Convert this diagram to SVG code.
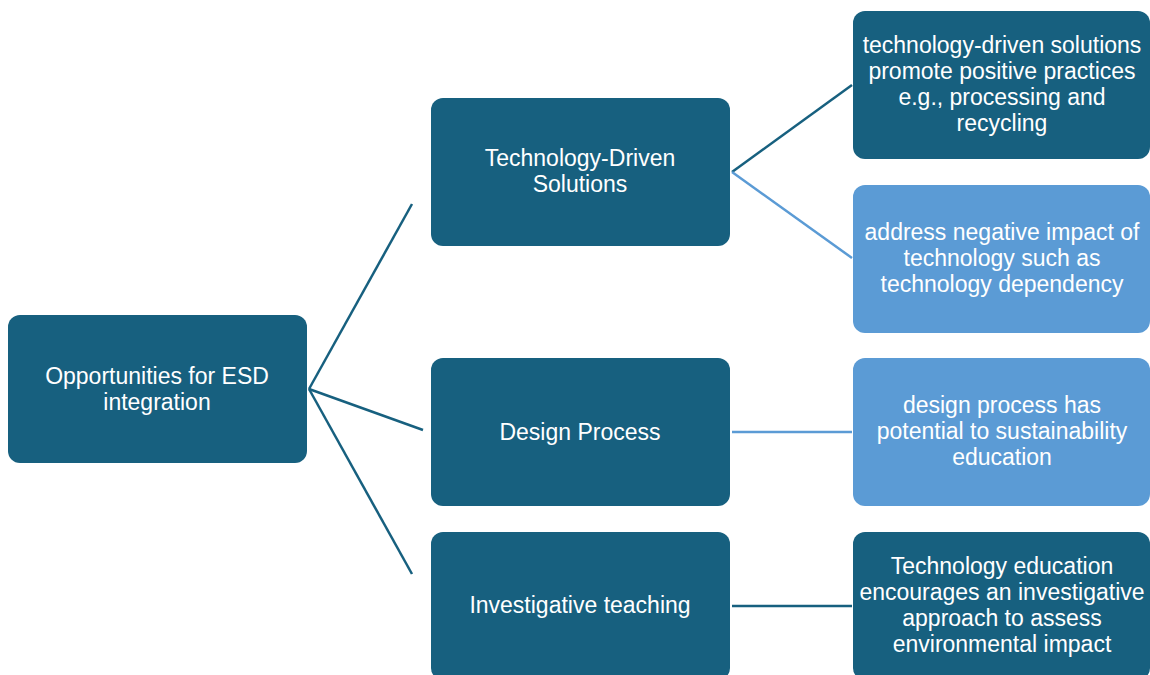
<svg xmlns="http://www.w3.org/2000/svg" width="1150" height="675" viewBox="0 0 1150 675">
  <style>
    .dark { fill: #17607f; }
    .light { fill: #5b9bd5; }
    .lbl { font-family: "Liberation Sans", Arial, sans-serif; font-size: 23px; fill: #ffffff; text-anchor: middle; }
    .cd { stroke: #17607f; stroke-width: 2.5; fill: none; }
    .cl { stroke: #5b9bd5; stroke-width: 2.5; fill: none; }
  </style>
  <rect width="1150" height="675" fill="#ffffff"/>

  <!-- connectors -->
  <g id="connectors">
    <line class="cd" x1="309" y1="389" x2="412" y2="204"/>
    <line class="cd" x1="309" y1="389" x2="423" y2="430"/>
    <line class="cd" x1="309" y1="389" x2="412" y2="574"/>
    <line class="cd" x1="732" y1="172" x2="852" y2="85"/>
    <line class="cl" x1="732" y1="172" x2="852" y2="258"/>
    <line class="cl" x1="732" y1="432" x2="852" y2="432"/>
    <line class="cd" x1="732" y1="606" x2="852" y2="606"/>
  </g>

  <!-- root -->
  <g id="root">
    <rect class="dark" x="8" y="315" width="299" height="148" rx="12"/>
    <text class="lbl" x="157" y="384">Opportunities for ESD</text>
    <text class="lbl" x="157" y="410">integration</text>
  </g>

  <!-- second level -->
  <g id="tech-driven">
    <rect class="dark" x="431" y="98" width="299" height="148" rx="12"/>
    <text class="lbl" x="580" y="166">Technology-Driven</text>
    <text class="lbl" x="580" y="192">Solutions</text>
  </g>
  <g id="design-process">
    <rect class="dark" x="431" y="358" width="299" height="148" rx="12"/>
    <text class="lbl" x="580" y="440">Design Process</text>
  </g>
  <g id="investigative">
    <rect class="dark" x="431" y="532" width="299" height="148" rx="12"/>
    <text class="lbl" x="580" y="613">Investigative teaching</text>
  </g>

  <!-- third level -->
  <g id="positive-practices">
    <rect class="dark" x="853" y="11" width="297" height="148" rx="12"/>
    <text class="lbl" x="1002" y="53">technology-driven solutions</text>
    <text class="lbl" x="1002" y="79">promote positive practices</text>
    <text class="lbl" x="1002" y="105">e.g., processing and</text>
    <text class="lbl" x="1002" y="131">recycling</text>
  </g>
  <g id="negative-impact">
    <rect class="light" x="853" y="185" width="297" height="148" rx="12"/>
    <text class="lbl" x="1002" y="240">address negative impact of</text>
    <text class="lbl" x="1002" y="266">technology such as</text>
    <text class="lbl" x="1002" y="292">technology dependency</text>
  </g>
  <g id="design-potential">
    <rect class="light" x="853" y="358" width="297" height="148" rx="12"/>
    <text class="lbl" x="1002" y="413">design process has</text>
    <text class="lbl" x="1002" y="439">potential to sustainability</text>
    <text class="lbl" x="1002" y="465">education</text>
  </g>
  <g id="investigative-approach">
    <rect class="dark" x="853" y="532" width="297" height="148" rx="12"/>
    <text class="lbl" x="1002" y="574">Technology education</text>
    <text class="lbl" x="1002" y="600">encourages an investigative</text>
    <text class="lbl" x="1002" y="626">approach to assess</text>
    <text class="lbl" x="1002" y="652">environmental impact</text>
  </g>
</svg>
